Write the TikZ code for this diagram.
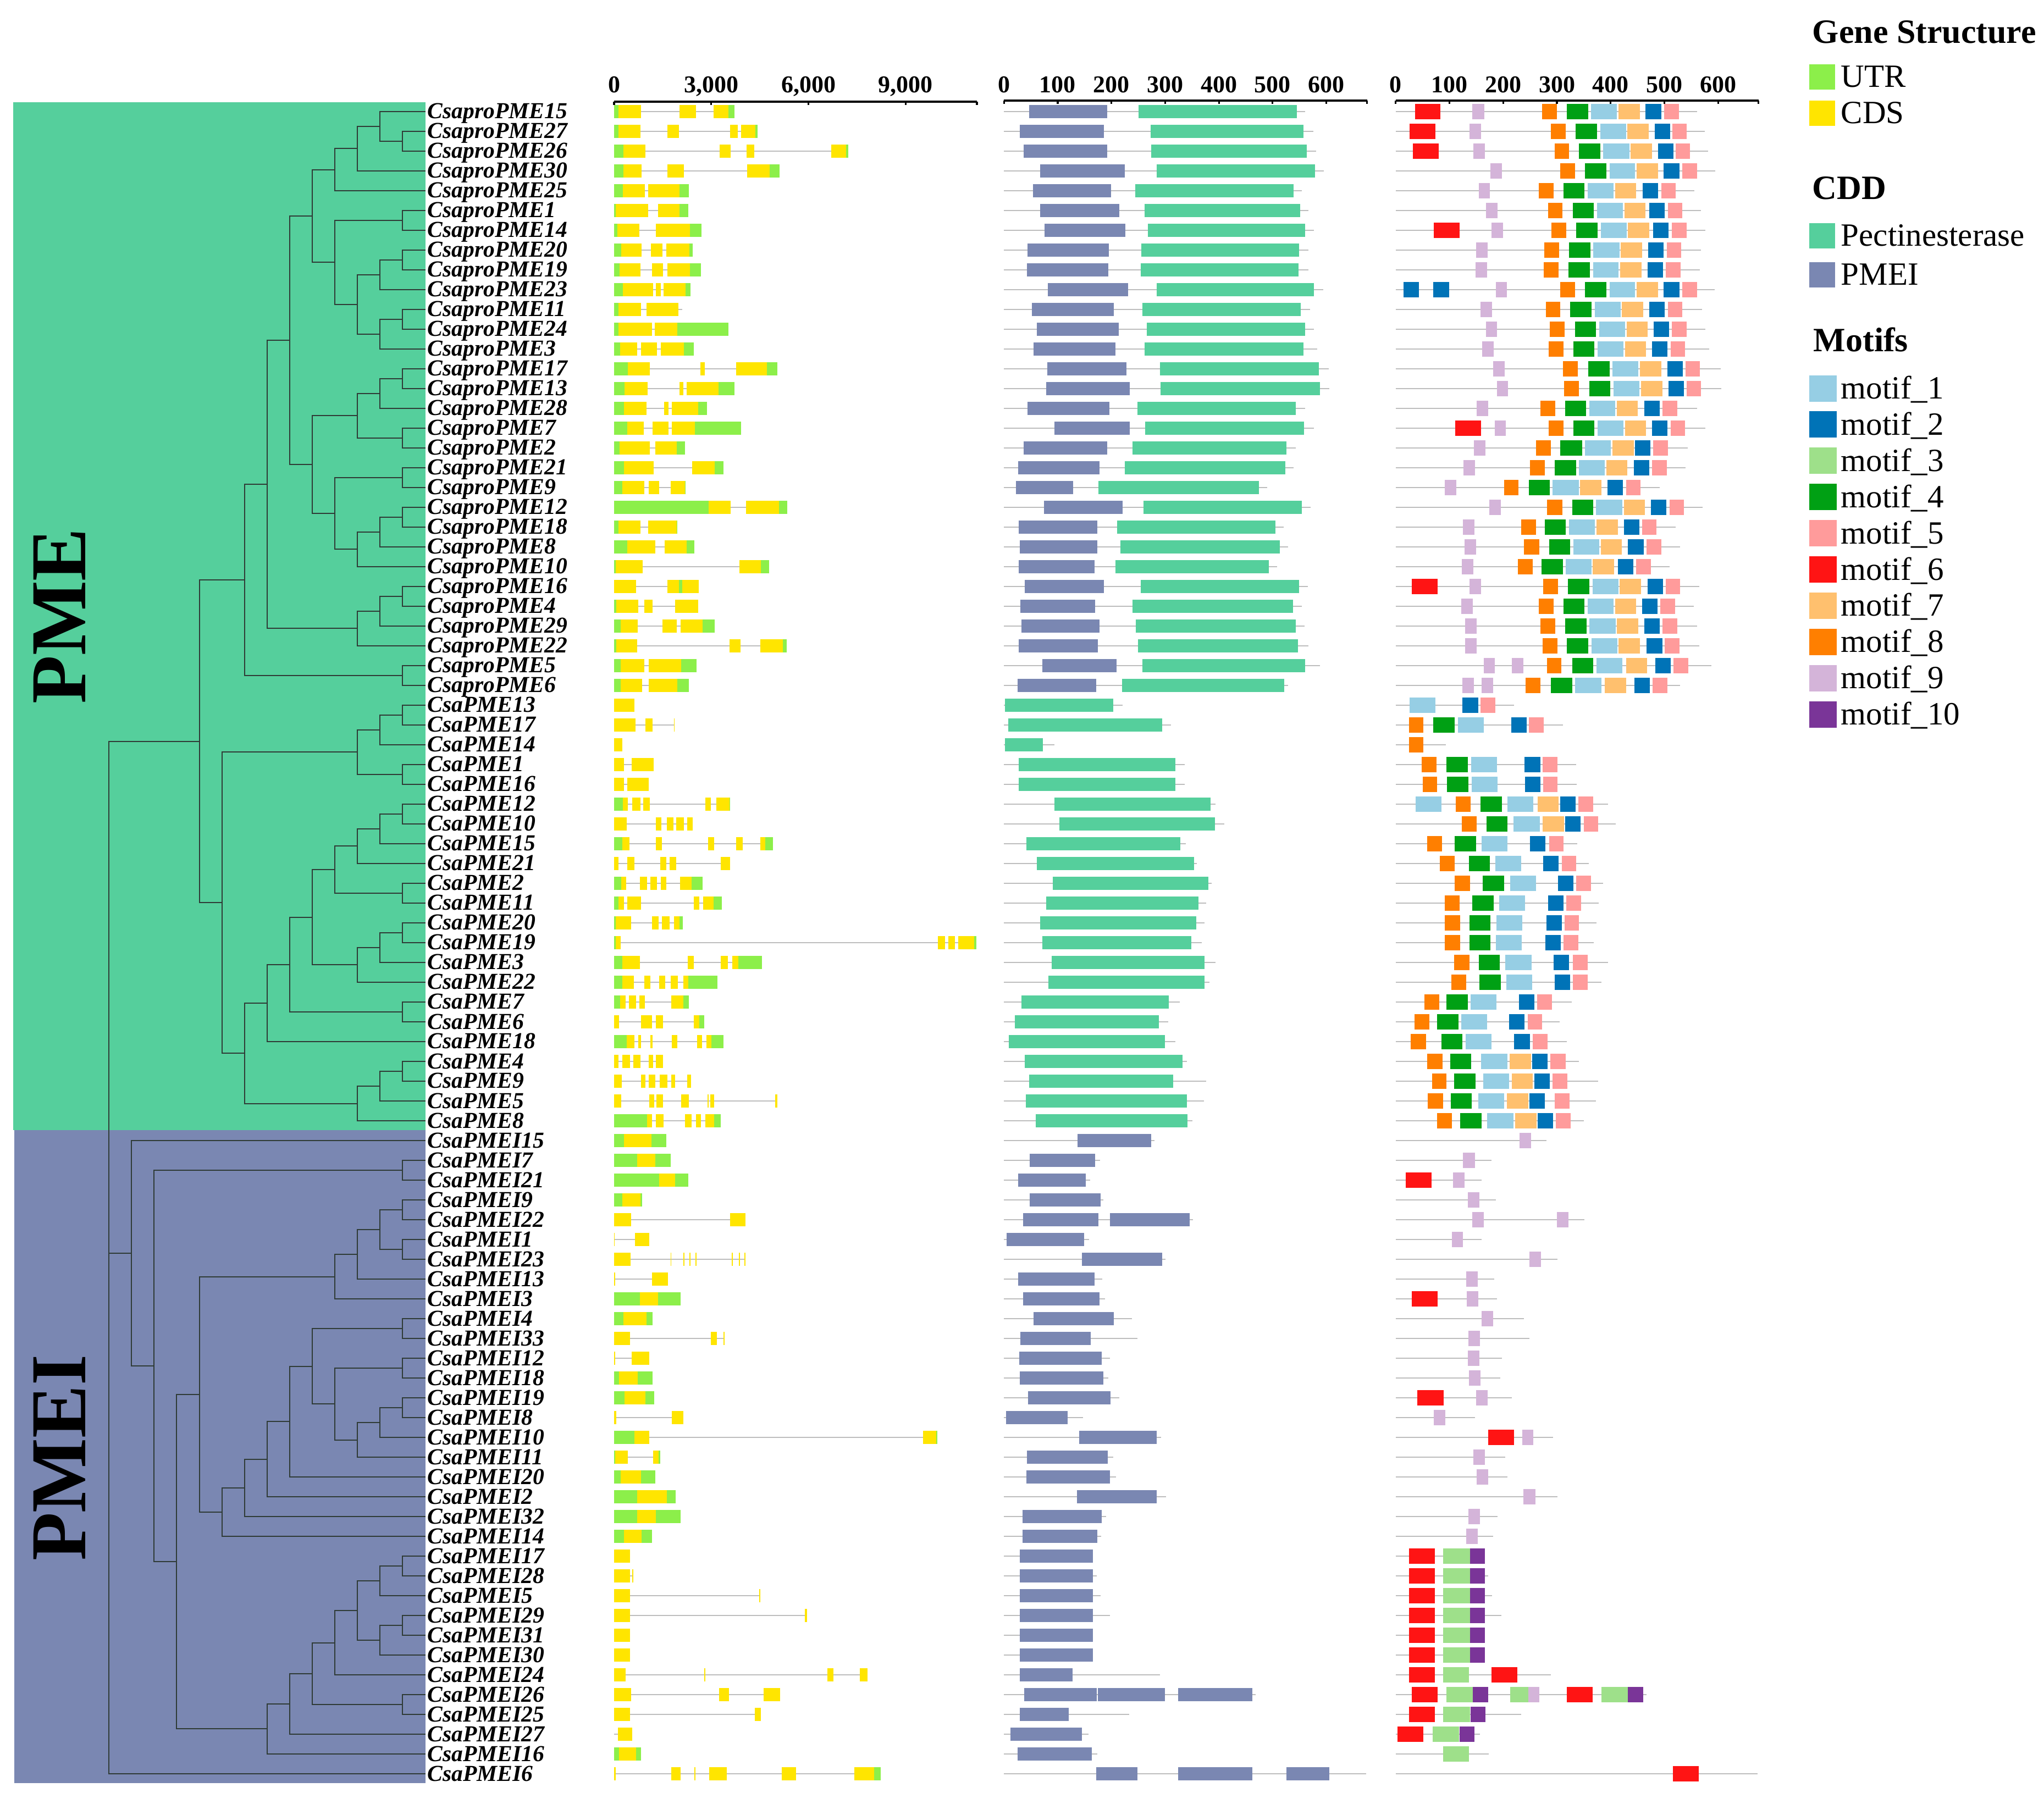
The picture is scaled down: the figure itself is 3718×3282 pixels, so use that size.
\documentclass[tikz,border=0pt]{standalone}
\usepackage{fontspec}
\setmainfont{Liberation Serif}
\usetikzlibrary{calc}
\definecolor{pmebg}{HTML}{55CF9C}
\definecolor{pmeibg}{HTML}{7A87B2}
\definecolor{gsu}{HTML}{8CEF4A}
\definecolor{gsc}{HTML}{FFE500}
\definecolor{cdde}{HTML}{55CF9C}
\definecolor{cddp}{HTML}{7A87B2}
\definecolor{motc1}{HTML}{96CEE4}
\definecolor{motc2}{HTML}{0073B7}
\definecolor{motc3}{HTML}{9EE08A}
\definecolor{motc4}{HTML}{00A014}
\definecolor{motc5}{HTML}{FF9B9B}
\definecolor{motc6}{HTML}{FF1414}
\definecolor{motc7}{HTML}{FFC06E}
\definecolor{motc8}{HTML}{FF7F00}
\definecolor{motc9}{HTML}{D4B4D9}
\definecolor{motc10}{HTML}{7A3598}
\definecolor{linegray}{HTML}{BDBDBD}
\definecolor{treeline}{HTML}{2F3B36}
\tikzset{
  branch/.style={draw=treeline, line width=0.5pt},
  intron/.style={draw=linegray, line width=0.6pt},
  axisline/.style={draw=black, line width=0.8pt},
  axlab/.style={anchor=base, inner sep=0pt, font=\bfseries\fontsize{11}{13}\selectfont},
  gname/.style={anchor=base west, inner sep=0pt, font=\bfseries\itshape\fontsize{10.4}{12}\selectfont},
  bigfam/.style={rotate=90, inner sep=0pt, font=\bfseries\fontsize{36}{40}\selectfont},
  legtitle/.style={anchor=base west, inner sep=0pt, font=\bfseries\fontsize{15.5}{18}\selectfont},
  legtext/.style={anchor=base west, inner sep=0pt, font=\fontsize{14.75}{17}\selectfont},
}
% gene structure row: #1 row, #2 line end, #3 boxes
\newcommand\gsrow[3]{\pgfmathsetmacro\rY{203+36*#1}\draw[intron] (80,\rY) -- (#2,\rY);
  \foreach \t/\a/\b in {#3}{\fill[fill=gs\t] (\a,\rY-12) rectangle (\b,\rY+12);}}
\newcommand\cdrow[3]{\pgfmathsetmacro\rY{203+36*#1}\draw[intron] (57,\rY) -- (#2,\rY);
  \foreach \t/\a/\b in {#3}{\fill[fill=cdd\t] (\a,\rY-12) rectangle (\b,\rY+12);}}
\newcommand\mtrow[3]{\pgfmathsetmacro\rY{203+36*#1}\draw[intron] (80,\rY) -- (#2,\rY);
  \foreach \t/\a/\b in {#3}{\fill[fill=motc\t] (\a,\rY-14) rectangle (\b,\rY+14);}}
% tree node: #1 name, #2 level, #3 #4 children
\newcommand\tn[4]{\path ($(#3)!0.5!(#4)$) coordinate (#1h); \coordinate (#1) at (#1h -| L#2);
  \draw[branch] (#3) -| (#1) |- (#4);}
\begin{document}
\begin{tikzpicture}[x=0.25pt,y=-0.25pt]
\useasboundingbox (0,0) rectangle (3718,3282);
\fill[white] (0,0) rectangle (3718,3282);
% backgrounds
\fill[pmebg] (24,186) rectangle (773.5,2056);
\fill[pmeibg] (26,2056) rectangle (773.5,3244);
\node[bigfam] (pmelab) at (108,1121) {PME};
\node[bigfam] (pmeilab) at (108,2652) {PMEI};
% tree coordinates
\foreach \k in {0,...,14} \coordinate (L\k) at ({773.5-41.1*\k},0);
\foreach \i in {0,...,84} \coordinate (t\i) at (773.5,{203+36*\i});
% PME group (CsaproPME)
\tn{a1}{1}{t1}{t2} \tn{a2}{2}{t0}{a1} \tn{a3}{3}{a2}{t3} \tn{a4}{4}{a3}{t4}
\tn{b1}{1}{t5}{t6} \tn{b2}{1}{t7}{t8} \tn{b3}{2}{b2}{t9} \tn{b4}{1}{t10}{t11}
\tn{b5}{2}{b4}{t12} \tn{b6}{3}{b3}{b5} \tn{b7}{4}{b1}{b6} \tn{c5}{5}{a4}{b7}
\tn{d1}{1}{t13}{t14} \tn{d2}{2}{d1}{t15} \tn{d3}{1}{t16}{t17} \tn{d4}{3}{d2}{d3}
\tn{e1}{1}{t18}{t19} \tn{e2}{1}{t20}{t21} \tn{e3}{2}{e2}{t22} \tn{e4}{3}{e3}{t23}
\tn{e5}{4}{e1}{e4} \tn{f5}{5}{d4}{e5} \tn{g6}{6}{c5}{f5}
\tn{h1}{1}{t24}{t25} \tn{h2}{2}{h1}{t26} \tn{h3}{3}{h2}{t27} \tn{g7}{7}{g6}{h3}
\tn{i1}{1}{t28}{t29} \tn{g8}{8}{g7}{i1}
% CsaPME
\tn{j1}{1}{t30}{t31} \tn{j2}{2}{j1}{t32} \tn{jb}{1}{t33}{t34} \tn{j3}{3}{j2}{jb}
\tn{k1}{1}{t35}{t36} \tn{k2}{2}{k1}{t37} \tn{k3}{3}{k2}{t38} \tn{kb}{1}{t39}{t40}
\tn{k4}{4}{k3}{kb} \tn{l1}{1}{t41}{t42} \tn{l2}{2}{l1}{t43} \tn{l3}{3}{l2}{t44}
\tn{k5}{5}{k4}{l3} \tn{m1}{1}{t45}{t46} \tn{k6}{6}{k5}{m1} \tn{k7}{7}{k6}{t47}
\tn{n1}{1}{t48}{t49} \tn{n2}{2}{n1}{t50} \tn{n3}{3}{n2}{t51} \tn{k8}{8}{k7}{n3}
\tn{k9}{9}{j3}{k8} \tn{pme}{10}{g8}{k9}
% PMEI
\tn{p1}{1}{t53}{t54}
\tn{q1}{1}{t55}{t56} \tn{qb}{1}{t57}{t58} \tn{q2}{2}{q1}{qb} \tn{q3}{3}{q2}{t59} \tn{q4}{4}{q3}{t60}
\tn{r1}{1}{t61}{t62} \tn{rb}{1}{t63}{t64} \tn{rc}{1}{t65}{t66} \tn{r2}{2}{rc}{t67}
\tn{r3}{3}{r2}{t68} \tn{r4}{4}{rb}{r3} \tn{r5}{5}{r1}{r4} \tn{r6}{6}{r5}{t69}
\tn{r7}{7}{r6}{t70} \tn{r8}{8}{r7}{t71} \tn{r9}{9}{r8}{t72} \tn{q10}{10}{q4}{r9}
\tn{s1}{1}{t73}{t74} \tn{s2}{2}{s1}{t75} \tn{sb}{1}{t76}{t77} \tn{s2b}{2}{sb}{t78}
\tn{s3}{3}{s2}{s2b} \tn{s4}{4}{s3}{t79} \tn{sc}{1}{t80}{t81} \tn{s5}{5}{s4}{sc}
\tn{s6}{6}{s5}{t82} \tn{s7}{7}{s6}{t83}
\tn{u11}{11}{q10}{s7} \tn{u12}{12}{p1}{u11} \tn{u13}{13}{t52}{u12}
\path ($(pme)!0.5!(t84)$) coordinate (rooth); \coordinate (root) at (rooth -| L14);
\draw[branch] (pme) -| (root) |- (t84);
\draw[branch] (root) |- (u13);
% gene names
\foreach \nm [count=\i from 0] in {CsaproPME15,CsaproPME27,CsaproPME26,CsaproPME30,CsaproPME25,CsaproPME1,CsaproPME14,CsaproPME20,CsaproPME19,CsaproPME23,CsaproPME11,CsaproPME24,CsaproPME3,CsaproPME17,CsaproPME13,CsaproPME28,CsaproPME7,CsaproPME2,CsaproPME21,CsaproPME9,CsaproPME12,CsaproPME18,CsaproPME8,CsaproPME10,CsaproPME16,CsaproPME4,CsaproPME29,CsaproPME22,CsaproPME5,CsaproPME6,CsaPME13,CsaPME17,CsaPME14,CsaPME1,CsaPME16,CsaPME12,CsaPME10,CsaPME15,CsaPME21,CsaPME2,CsaPME11,CsaPME20,CsaPME19,CsaPME3,CsaPME22,CsaPME7,CsaPME6,CsaPME18,CsaPME4,CsaPME9,CsaPME5,CsaPME8,CsaPMEI15,CsaPMEI7,CsaPMEI21,CsaPMEI9,CsaPMEI22,CsaPMEI1,CsaPMEI23,CsaPMEI13,CsaPMEI3,CsaPMEI4,CsaPMEI33,CsaPMEI12,CsaPMEI18,CsaPMEI19,CsaPMEI8,CsaPMEI10,CsaPMEI11,CsaPMEI20,CsaPMEI2,CsaPMEI32,CsaPMEI14,CsaPMEI17,CsaPMEI28,CsaPMEI5,CsaPMEI29,CsaPMEI31,CsaPMEI30,CsaPMEI24,CsaPMEI26,CsaPMEI25,CsaPMEI27,CsaPMEI16,CsaPMEI6}
  \node[gname] (nm\i) at (777,{216+36*\i}) {\nm};
% axes
\draw[axisline] (1117,185) -- (1777,185);
\foreach \v/\lab [count=\j] in {0/0,3000/{3,000},6000/{6,000},9000/{9,000}}{
  \draw[axisline] ({1117+0.058933*\v},185) -- ({1117+0.058933*\v},191);
  \node[axlab] (gax\j) at ({1117+0.058933*\v},169) {\lab};}
\draw[axisline] (1777,185) -- (1777,191);
\draw[axisline] (1826.2,183) -- (2486.5,183);
\foreach \k in {0,...,6}{
  \draw[axisline] ({1826.2+97.72*\k},183) -- ({1826.2+97.72*\k},189);
  \node[axlab] (cax\k) at ({1826.2+97.72*\k},169) {\pgfmathparse{int(100*\k)}\pgfmathresult};}
\draw[axisline] (2486.5,183) -- (2486.5,189);
\draw[axisline] (2538.8,183) -- (3198.5,183);
\foreach \k in {0,...,6}{
  \draw[axisline] ({2538.8+97.75*\k},183) -- ({2538.8+97.75*\k},189);
  \node[axlab] (max\k) at ({2538.8+97.75*\k},169) {\pgfmathparse{int(100*\k)}\pgfmathresult};}
\draw[axisline] (3198.5,183) -- (3198.5,189);
% ---------------- gene structure ----------------
\begin{scope}[shift={(1080,0)}, xscale=0.459184]
\gsrow{0}{558}{u/80/98,c/98/187,c/340/406,c/474/533,u/533/558}
\gsrow{1}{648}{u/80/98,c/98/185,c/292/337,c/540/571,c/584/640,u/640/648}
\gsrow{2}{1008}{u/80/118,c/118/205,c/499/543,c/605/635,c/940/1000,u/1000/1008}
\gsrow{3}{737}{u/80/118,c/118/190,c/292/357,c/607/696,u/696/737}
\gsrow{4}{376}{u/80/115,c/115/202,c/215/340,u/340/376}
\gsrow{5}{375}{u/80/87,c/87/216,c/254/340,u/340/375}
\gsrow{6}{427}{u/80/94,c/94/181,c/247/381,u/381/427}
\gsrow{7}{391}{u/80/109,c/109/189,c/226/272,c/288/378,u/378/391}
\gsrow{8}{425}{u/80/103,c/103/184,c/230/275,c/292/380,u/380/425}
\gsrow{9}{384}{u/80/116,c/116/235,c/246/266,c/276/364,u/364/384}
\gsrow{10}{350}{u/80/97,c/97/187,c/208/335}
\gsrow{11}{534}{u/80/97,c/97/231,c/241/330,u/330/534}
\gsrow{12}{396}{u/80/105,c/105/171,c/187/251,c/265/357,u/357/396}
\gsrow{13}{727}{u/80/136,c/136/223,c/423/440,c/563/687,u/687/727}
\gsrow{14}{557}{u/80/123,c/123/213,c/339/354,c/369/494,u/494/557}
\gsrow{15}{449}{u/80/119,c/119/209,c/279/297,c/309/414,u/414/449}
\gsrow{16}{584}{u/80/133,c/133/199,c/233/297,c/310/400,u/400/584}
\gsrow{17}{361}{u/80/102,c/102/223,c/243/329,u/329/361}
\gsrow{18}{513}{u/80/119,c/119/237,c/390/479,u/479/513}
\gsrow{19}{363}{u/80/114,c/114/201,c/217/259,c/305/361,u/361/363}
\gsrow{20}{767}{u/80/455,c/455/543,c/603/734,u/734/767}
\gsrow{21}{332}{u/80/98,c/98/185,c/215/329,u/329/332}
\gsrow{22}{398}{u/80/132,c/132/244,c/281/369,u/369/398}
\gsrow{23}{694}{u/80/86,c/86/193,c/576/661,u/661/694}
\gsrow{24}{416}{c/80/167,c/292/337,u/337/350,c/350/416}
\gsrow{25}{414}{u/80/89,c/89/177,c/201/232,c/322/414}
\gsrow{26}{480}{u/80/107,c/107/174,c/273/328,c/343/431,u/431/480}
\gsrow{27}{765}{u/80/90,c/90/172,c/537/582,c/660/750,u/750/765}
\gsrow{28}{408}{u/80/107,c/107/200,c/218/347,u/347/408}
\gsrow{29}{377}{u/80/106,c/106/192,c/218/332,u/332/377}
\gsrow{30}{162}{c/80/162}
\gsrow{31}{321}{c/80/166,c/205/232,c/318/321}
\gsrow{32}{114}{c/80/114}
\gsrow{33}{238}{c/80/120,c/151/238}
\gsrow{34}{218}{c/80/120,c/132/218}
\gsrow{35}{541}{u/80/115,c/115/134,c/153/184,c/197/222,c/442/463,c/485/538,u/538/541}
\gsrow{36}{392}{c/80/131,c/247/268,c/289/315,c/327/357,c/371/392}
\gsrow{37}{710}{u/80/113,c/113/141,c/245/270,c/453/477,c/563/591,c/659/679,u/679/710}
\gsrow{38}{539}{c/80/97,c/133/161,c/263/287,c/301/326,c/504/539}
\gsrow{39}{431}{u/80/109,c/109/129,c/183/212,c/225/250,c/265/287,c/341/388,u/388/431}
\gsrow{40}{507}{u/80/97,c/97/120,c/132/187,c/396/418,c/433/474,u/474/507}
\gsrow{41}{353}{u/80/86,c/86/148,c/231/257,c/269/300,c/318/340,u/340/353}
\gsrow{42}{1515}{u/80/87,c/87/107,c/1363/1391,c/1404/1430,c/1444/1508,u/1508/1515}
\gsrow{43}{666}{u/80/113,c/113/182,c/372/396,c/504/532,c/548/572,u/572/666}
\gsrow{44}{490}{u/80/113,c/113/158,c/201/224,c/260/284,c/305/333,c/355/375,u/375/490}
\gsrow{45}{376}{u/80/104,c/104/127,c/139/168,c/181/203,c/308/355,u/355/376}
\gsrow{46}{438}{c/80/100,c/188/231,c/245/274,c/397/418,u/418/438}
\gsrow{47}{514}{u/80/131,c/131/161,c/176/187,c/224/233,c/310/331,c/410/430,c/447/467,u/467/514}
\gsrow{48}{274}{c/80/99,c/113/143,c/157/185,c/218/236,c/247/274}
\gsrow{49}{386}{c/80/110,c/187/205,c/218/243,c/262/292,c/307/322,c/371/386}
\gsrow{50}{727}{c/80/108,c/219/240,c/249/274,c/347/377,c/451/455,c/462/477,c/719/727}
\gsrow{51}{502}{u/80/212,c/212/231,c/246/276,c/362/387,c/405/425,c/441/477,u/477/502}
\gsrow{52}{287}{u/80/120,c/120/228,u/228/287}
\gsrow{53}{305}{u/80/173,c/173/243,u/243/305}
\gsrow{54}{374}{u/80/260,c/260/322,u/322/374}
\gsrow{55}{191}{u/80/114,c/114/186,u/186/191}
\gsrow{56}{602}{c/80/148,c/540/602}
\gsrow{57}{221}{c/80/83,c/164/221}
\gsrow{58}{602}{c/80/146,c/304/308,c/355/359,c/379/383,c/402/407,c/546/551,c/575/579,c/597/602}
\gsrow{59}{293}{c/80/85,c/231/293}
\gsrow{60}{344}{u/80/182,c/182/255,u/255/344}
\gsrow{61}{234}{u/80/118,c/118/210,u/210/234}
\gsrow{62}{519}{c/80/144,c/464/488,c/515/519}
\gsrow{63}{221}{c/80/84,c/151/221}
\gsrow{64}{234}{u/80/100,c/100/174,u/174/234}
\gsrow{65}{239}{u/80/121,c/121/205,u/205/239}
\gsrow{66}{355}{c/80/90,c/310/355}
\gsrow{67}{1362}{u/80/162,c/162/221,c/1304/1356,u/1356/1362}
\gsrow{68}{264}{u/80/84,c/84/135,c/235/258,u/258/264}
\gsrow{69}{243}{u/80/106,c/106/187,u/187/243}
\gsrow{70}{325}{u/80/173,c/173/290,u/290/325}
\gsrow{71}{344}{u/80/173,c/173/247,u/247/344}
\gsrow{72}{231}{u/80/119,c/119/190,u/190/231}
\gsrow{73}{143}{c/80/143}
\gsrow{74}{157}{c/80/143,c/153/157}
\gsrow{75}{660}{c/80/143,c/656/660}
\gsrow{76}{846}{c/80/143,c/836/846}
\gsrow{77}{143}{c/80/143}
\gsrow{78}{143}{c/80/143}
\gsrow{79}{1085}{c/80/126,c/438/442,c/926/950,c/1054/1085}
\gsrow{80}{738}{c/80/148,c/496/535,c/673/738}
\gsrow{81}{661}{c/80/143,c/637/661}
\gsrow{82}{152}{c/95/152}
\gsrow{83}{187}{u/80/100,c/100/167,u/167/187}
\gsrow{84}{1137}{c/80/87,c/308/344,c/398/402,c/458/526,c/744/802,c/1032/1110,u/1110/1137}
\end{scope}
% ---------------- CDD ----------------
\begin{scope}[shift={(1800,0)}, xscale=0.459184]
\cdrow{0}{1250}{p/156/465,e/590/1218}
\cdrow{1}{1282}{p/120/452,e/639/1243}
\cdrow{2}{1294}{p/136/466,e/641/1256}
\cdrow{3}{1325}{p/201/535,e/663/1290}
\cdrow{4}{1238}{p/171/481,e/578/1205}
\cdrow{5}{1264}{p/201/513,e/614/1230}
\cdrow{6}{1284}{p/218/537,e/628/1251}
\cdrow{7}{1264}{p/150/473,e/601/1226}
\cdrow{8}{1262}{p/147/471,e/599/1224}
\cdrow{9}{1322}{p/231/548,e/663/1284}
\cdrow{10}{1270}{p/167/492,e/605/1232}
\cdrow{11}{1284}{p/188/511,e/623/1249}
\cdrow{12}{1298}{p/175/498,e/614/1243}
\cdrow{13}{1343}{p/229/543,e/674/1305}
\cdrow{14}{1345}{p/224/556,e/677/1309}
\cdrow{15}{1250}{p/150/475,e/585/1214}
\cdrow{16}{1284}{p/257/556,e/616/1246}
\cdrow{17}{1213}{p/135/465,e/567/1175}
\cdrow{18}{1205}{p/113/435,e/536/1171}
\cdrow{19}{1100}{p/105/332,e/431/1066}
\cdrow{20}{1272}{p/215/526,e/610/1238}
\cdrow{21}{1164}{p/116/426,e/506/1132}
\cdrow{22}{1182}{p/120/426,e/518/1149}
\cdrow{23}{1140}{p/115/415,e/499/1107}
\cdrow{24}{1260}{p/139/452,e/599/1226}
\cdrow{25}{1236}{p/122/419,e/567/1201}
\cdrow{26}{1248}{p/126/435,e/580/1214}
\cdrow{27}{1262}{p/115/430,e/588/1222}
\cdrow{28}{1308}{p/209/504,e/605/1251}
\cdrow{29}{1183}{p/111/422,e/525/1168}
\cdrow{30}{526}{e/61/491}
\cdrow{31}{718}{e/75/684}
\cdrow{32}{256}{e/62/212}
\cdrow{33}{772}{e/116/736}
\cdrow{34}{774}{e/116/736}
\cdrow{35}{896}{e/257/875}
\cdrow{36}{929}{e/277/893}
\cdrow{37}{778}{e/146/756}
\cdrow{38}{821}{e/188/809}
\cdrow{39}{879}{e/250/867}
\cdrow{40}{859}{e/224/827}
\cdrow{41}{852}{e/201/819}
\cdrow{42}{841}{e/209/800}
\cdrow{43}{896}{e/246/852}
\cdrow{44}{872}{e/233/851}
\cdrow{45}{754}{e/126/710}
\cdrow{46}{707}{e/101/671}
\cdrow{47}{735}{e/77/694}
\cdrow{48}{781}{e/139/764}
\cdrow{49}{858}{e/157/728}
\cdrow{50}{850}{e/144/781}
\cdrow{51}{803}{e/182/783}
\cdrow{52}{654}{p/349/640}
\cdrow{53}{437}{p/158/419}
\cdrow{54}{399}{p/113/381}
\cdrow{55}{451}{p/160/439}
\cdrow{56}{805}{p/133/432,p/477/793}
\cdrow{57}{395}{p/67/375}
\cdrow{58}{696}{p/366/684}
\cdrow{59}{446}{p/113/416}
\cdrow{60}{457}{p/133/435}
\cdrow{61}{565}{p/175/492}
\cdrow{62}{586}{p/123/401}
\cdrow{63}{477}{p/118/445}
\cdrow{64}{471}{p/119/450}
\cdrow{65}{515}{p/153/479}
\cdrow{66}{371}{p/65/310}
\cdrow{67}{679}{p/356/661}
\cdrow{68}{490}{p/147/469}
\cdrow{69}{500}{p/145/477}
\cdrow{70}{699}{p/347/662}
\cdrow{71}{461}{p/130/445}
\cdrow{72}{443}{p/130/427}
\cdrow{73}{409}{p/119/409}
\cdrow{74}{425}{p/119/409}
\cdrow{75}{439}{p/119/409}
\cdrow{76}{476}{p/119/409}
\cdrow{77}{409}{p/119/409}
\cdrow{78}{409}{p/119/409}
\cdrow{79}{674}{p/119/329}
\cdrow{80}{1053}{p/138/424,p/430/694,p/748/1041}
\cdrow{81}{554}{p/119/314}
\cdrow{82}{392}{p/83/366}
\cdrow{83}{427}{p/110/406}
\cdrow{84}{1492}{p/422/585,p/746/1041,p/1176/1345}
\end{scope}
% ---------------- Motifs ----------------
\begin{scope}[shift={(2500,0)}, xscale=0.484694]
\mtrow{0}{1212}{6/152/248,9/368/412,8/629/685,4/722/802,1/813/909,7/916/996,2/1018/1076,5/1087/1142}
\mtrow{1}{1240}{6/131/228,9/357/400,8/663/718,4/756/836,1/847/945,7/950/1030,2/1052/1110,5/1118/1172}
\mtrow{2}{1252}{6/145/242,9/371/414,8/676/730,4/768/848,1/859/957,7/962/1042,2/1065/1122,5/1130/1184}
\mtrow{3}{1280}{9/436/479,8/698/753,4/790/870,1/882/978,7/984/1064,2/1086/1144,5/1156/1211}
\mtrow{4}{1200}{9/391/434,8/617/673,4/710/789,1/801/898,7/904/983,2/1006/1064,5/1076/1130}
\mtrow{5}{1225}{9/419/462,8/651/706,4/744/823,1/835/933,7/938/1017,2/1032/1090,5/1101/1156}
\mtrow{6}{1242}{6/222/319,9/439/483,8/665/720,4/758/838,1/850/946,7/952/1032,2/1046/1104,5/1117/1172}
\mtrow{7}{1225}{9/381/424,8/638/694,4/731/811,1/822/920,7/925/1005,2/1027/1085,5/1098/1152}
\mtrow{8}{1222}{9/379/422,8/636/692,4/729/809,1/821/917,7/923/1003,2/1025/1083,5/1094/1149}
\mtrow{9}{1278}{2/110/168,2/221/280,9/456/498,8/698/753,4/790/870,1/882/978,7/984/1064,2/1086/1144,5/1156/1211}
\mtrow{10}{1230}{9/399/442,8/643/698,4/735/815,1/827/924,7/929/1009,2/1032/1090,5/1101/1156}
\mtrow{11}{1242}{9/418/460,8/659/714,4/752/832,1/843/941,7/946/1026,2/1048/1106,5/1117/1172}
\mtrow{12}{1257}{9/405/448,8/653/709,4/746/826,1/837/935,7/940/1020,2/1042/1100,5/1111/1166}
\mtrow{13}{1300}{9/446/489,8/707/763,4/802/882,1/893/991,7/996/1076,2/1099/1157,5/1168/1222}
\mtrow{14}{1302}{9/459/502,8/711/767,4/806/886,1/897/995,7/1000/1080,2/1103/1161,5/1172/1226}
\mtrow{15}{1212}{9/383/426,8/622/678,4/715/795,1/806/904,7/909/989,2/1012/1070,5/1081/1136}
\mtrow{16}{1242}{6/304/401,9/451/494,8/653/709,4/746/826,1/837/935,7/940/1020,2/1042/1100,5/1111/1166}
\mtrow{17}{1176}{9/373/416,8/607/662,4/698/779,1/790/888,7/893/973,2/978/1036,5/1045/1101}
\mtrow{18}{1168}{9/334/377,8/584/640,4/677/757,1/767/865,7/871/950,2/973/1031,5/1042/1097}
\mtrow{19}{1070}{9/265/308,8/486/541,4/579/659,1/669/767,7/772/852,2/875/933,5/944/999}
\mtrow{20}{1232}{9/431/474,8/648/705,4/742/822,1/832/930,7/936/1015,2/1038/1096,5/1107/1162}
\mtrow{21}{1130}{9/332/375,8/550/606,4/639/718,1/730/827,7/833/913,2/936/994,5/1004/1059}
\mtrow{22}{1148}{9/338/381,8/562/618,4/655/735,1/746/843,7/849/928,2/952/1010,5/1022/1077}
\mtrow{23}{1108}{9/328/371,8/538/594,4/627/707,1/718/815,7/820/899,2/913/971,5/982/1037}
\mtrow{24}{1220}{6/140/238,9/357/400,8/634/690,4/727/807,1/818/916,7/921/1001,2/1025/1083,5/1093/1148}
\mtrow{25}{1198}{9/326/370,8/617/673,4/710/789,1/801/898,7/904/983,2/1004/1062,5/1073/1128}
\mtrow{26}{1210}{9/340/384,8/623/679,4/716/796,1/807/905,7/910/990,2/1013/1071,5/1082/1137}
\mtrow{27}{1220}{9/340/384,8/631/687,4/723/803,1/815/912,7/917/997,2/1022/1080,5/1090/1145}
\mtrow{28}{1265}{9/410/452,9/516/559,8/647/702,4/742/821,1/833/931,7/944/1023,2/1054/1112,5/1122/1178}
\mtrow{29}{1148}{9/330/373,9/402/446,8/567/623,4/663/743,1/754/851,7/864/944,2/975/1033,5/1044/1099}
\mtrow{30}{524}{1/131/228,2/331/389,5/399/454}
\mtrow{31}{707}{8/129/184,4/221/301,1/313/410,2/513/571,5/580/635}
\mtrow{32}{268}{8/129/184}
\mtrow{33}{758}{8/178/234,4/271/351,1/363/460,2/564/622,5/631/686}
\mtrow{34}{760}{8/181/236,4/273/353,1/365/462,2/566/624,5/633/688}
\mtrow{35}{876}{1/155/252,8/306/361,4/399/479,1/499/597,7/613/692,2/697/755,5/765/821}
\mtrow{36}{906}{8/328/383,4/421/500,1/522/620,7/631/711,2/715/773,5/785/840}
\mtrow{37}{762}{8/198/253,4/302/381,1/403/500,2/584/642,5/655/710}
\mtrow{38}{805}{8/245/301,4/355/434,1/454/551,2/634/692,5/703/758}
\mtrow{39}{858}{8/302/358,4/407/487,1/509/606,2/689/747,5/758/813}
\mtrow{40}{842}{8/263/319,4/368/448,1/469/566,2/651/709,5/720/775}
\mtrow{41}{833}{8/265/321,4/356/436,1/458/555,2/645/703,5/714/768}
\mtrow{42}{823}{8/265/321,4/356/436,1/456/553,2/641/699,5/710/765}
\mtrow{43}{876}{8/300/356,4/391/471,1/492/590,2/673/731,5/744/800}
\mtrow{44}{853}{8/288/344,4/395/475,1/495/592,2/676/734,5/744/800}
\mtrow{45}{741}{8/187/243,4/271/351,1/360/458,2/542/600,5/611/666}
\mtrow{46}{696}{8/150/206,4/235/315,1/325/422,2/505/563,5/575/630}
\mtrow{47}{722}{8/137/194,4/252/331,1/342/440,2/525/584,5/595/650}
\mtrow{48}{767}{8/199/255,4/284/364,1/401/499,7/508/588,2/592/650,5/661/717}
\mtrow{49}{840}{8/216/271,4/300/380,1/408/505,7/516/595,2/600/658,5/668/724}
\mtrow{50}{832}{8/201/257,4/286/366,1/389/487,7/497/578,2/582/640,5/677/732}
\mtrow{51}{787}{8/235/291,4/322/402,1/423/521,7/528/608,2/612/670,5/681/737}
\mtrow{52}{646}{9/544/587}
\mtrow{53}{440}{9/333/377}
\mtrow{54}{403}{6/117/215,9/296/339}
\mtrow{55}{455}{9/351/394}
\mtrow{56}{788}{9/367/410,9/685/728}
\mtrow{57}{402}{9/290/333}
\mtrow{58}{686}{9/582/626}
\mtrow{59}{449}{9/344/388}
\mtrow{60}{460}{6/140/238,9/347/390}
\mtrow{61}{561}{9/403/446}
\mtrow{62}{581}{9/353/396}
\mtrow{63}{479}{9/351/394}
\mtrow{64}{473}{9/355/398}
\mtrow{65}{515}{6/161/259,9/381/424}
\mtrow{66}{378}{9/223/266}
\mtrow{67}{670}{6/427/524,9/554/597}
\mtrow{68}{490}{9/371/414}
\mtrow{69}{500}{9/383/426}
\mtrow{70}{688}{9/560/604}
\mtrow{71}{462}{9/353/396}
\mtrow{72}{446}{9/344/388}
\mtrow{73}{414}{6/129/226,3/258/358,10/358/414}
\mtrow{74}{428}{6/129/226,3/258/358,10/358/414}
\mtrow{75}{442}{6/129/226,3/258/358,10/358/414}
\mtrow{76}{477}{6/129/226,3/258/358,10/358/414}
\mtrow{77}{414}{6/129/226,3/258/358,10/358/414}
\mtrow{78}{414}{6/129/226,3/258/358,10/358/414}
\mtrow{79}{663}{6/129/226,3/258/355,6/439/536}
\mtrow{80}{1022}{6/140/238,3/270/370,10/370/426,3/509/577,9/577/619,6/723/820,3/852/952,10/952/1008}
\mtrow{81}{551}{6/129/226,3/258/358,10/360/416}
\mtrow{82}{397}{6/87/184,3/219/318,10/320/375}
\mtrow{83}{430}{3/257/354}
\mtrow{84}{1438}{6/1120/1218}
\end{scope}
% ---------------- Legend ----------------
\node[legtitle] (lg1) at (3296,79) {Gene Structure};
\fill[gsu] (3291,117) rectangle (3338,163);
\node[legtext] (lgu) at (3348,159) {UTR};
\fill[gsc] (3291,183) rectangle (3338,229);
\node[legtext] (lgc) at (3348,225) {CDS};
\node[legtitle] (lg2) at (3296,363) {CDD};
\fill[cdde] (3291,406) rectangle (3338,452);
\node[legtext] (lge) at (3348,448) {Pectinesterase};
\fill[cddp] (3291,477) rectangle (3338,523);
\node[legtext] (lgp) at (3348,519) {PMEI};
\node[legtitle] (lg3) at (3298,640) {Motifs};
\foreach \k in {1,...,10}{
  \fill[motc\k] (3291,{706.6+65.9*(\k-1)-24}) rectangle (3341,{706.6+65.9*(\k-1)+24});
  \node[legtext] (lgm\k) at (3348,{706.6+65.9*(\k-1)+19}) {motif\_\k};}
\end{tikzpicture}
\end{document}
